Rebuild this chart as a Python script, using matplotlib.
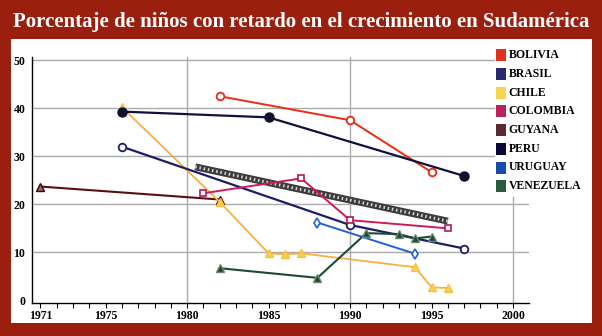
"""Porcentaje de niños con retardo en el crecimiento en Sudamérica."""

import matplotlib
matplotlib.use("Agg")
import matplotlib.pyplot as plt
from matplotlib.patches import Rectangle

# --- data -------------------------------------------------------------
countries = ["BOLIVIA", "BRASIL", "CHILE", "COLOMBIA", "GUYANA",
             "PERU", "URUGUAY", "VENEZUELA"]
legend_colors = ["#e0301e", "#262a6e", "#f8d54e", "#b8205e", "#5a2a32",
                 "#0a0838", "#1a4aaa", "#2a5c40"]

bolivia_years = [1982, 1990, 1995]
bolivia_vals = [42.5, 37.5, 26.7]
brasil_years = [1976, 1990, 1997]
brasil_vals = [32.0, 15.7, 10.8]
chile_years = [1976, 1982, 1985, 1986, 1987, 1994, 1995, 1996]
chile_vals = [40.2, 20.5, 9.8, 9.6, 9.8, 6.9, 2.7, 2.6]
colombia_years = [1981, 1987, 1990, 1996]
colombia_vals = [22.3, 25.4, 16.7, 15.0]
guyana_years = [1971, 1982]
guyana_vals = [23.7, 21.0]
peru_years = [1976, 1985, 1997]
peru_vals = [39.3, 38.1, 25.9]
uruguay_years = [1988, 1994]
uruguay_vals = [16.2, 9.7]
venezuela_years = [1982, 1988, 1991, 1993, 1994, 1995]
venezuela_vals = [6.7, 4.7, 14.0, 13.8, 12.9, 13.3]
trend_years = [1980.5, 1996]
trend_vals = [27.8, 16.5]

x_labels = {1971: "1971", 1975: "1975", 1980: "1980", 1985: "1985",
            1990: "1990", 1995: "1995", 2000: "2000"}
y_ticks = [0, 10, 20, 30, 40, 50]

# --- figure -----------------------------------------------------------
BG = "#9b1f0e"
SERIF = "Liberation Serif"

fig = plt.figure(figsize=(6.02, 3.36), dpi=100, facecolor=BG)
# white panel (behind the axes)
fig.patches.append(Rectangle((11 / 602, 1 - 322.7 / 336), 580.7 / 602, 283.7 / 336,
                             transform=fig.transFigure, facecolor="white",
                             edgecolor="none", zorder=-1))
fig.text(0.5, 1 - 22 / 336, "Porcentaje de niños con retardo en el crecimiento en Sudamérica",
         ha="center", va="center", color="white", fontsize=15,
         fontweight="bold", family=SERIF)

ax = fig.add_axes([32.3 / 602, 1 - 303.3 / 336, 497 / 602, 246 / 336])
ax.set_facecolor("none")
ax.set_xlim(1970.5, 2001)
ax.set_ylim(-0.6, 50.6)

for s in ("top", "right"):
    ax.spines[s].set_visible(False)
for s in ("left", "bottom"):
    ax.spines[s].set_color("black")
    ax.spines[s].set_linewidth(1)

ax.set_xticks(range(1971, 2001))
ax.set_xticklabels([x_labels.get(y, "") for y in range(1971, 2001)])
ax.set_yticks(y_ticks)
ax.set_yticklabels([str(v) for v in y_ticks])
ax.tick_params(axis="x", length=3.5, width=0.8, pad=1.5)
ax.tick_params(axis="y", length=0, pad=5)
for lab in ax.get_xticklabels() + ax.get_yticklabels():
    lab.set_family(SERIF)
    lab.set_fontweight("bold")
    lab.set_fontsize(8.5)

for v in y_ticks[1:]:
    ax.axhline(v, color="#ababab", lw=1, zorder=1)
for yr in (1980, 1990, 2000):
    ax.axvline(yr, color="#ababab", lw=1, zorder=1)

# hatched trend band
ax.plot(trend_years, trend_vals, color="#3c3c3c", lw=5, solid_capstyle="butt", zorder=2)
ax.plot(trend_years, trend_vals, color="white", lw=2.2, ls=(0, (0.5, 0.9)),
        solid_capstyle="butt", zorder=2.1, alpha=0.8)

ax.plot(guyana_years, guyana_vals, color="#5a1010", lw=1.5, marker="^", ms=6,
        mfc="#a06060", mec="#3a0808", zorder=3)
ax.plot(chile_years, chile_vals, color="#f7b040", lw=1.3, marker="^", ms=6,
        mfc="#fad052", mec="#f5c040", zorder=3)
ax.plot(bolivia_years, bolivia_vals, color="#ee2a12", lw=1.4, marker="o", ms=5.5,
        mfc="white", mec="#e8281a", mew=1.3, zorder=3)
ax.plot(peru_years, peru_vals, color="#101040", lw=1.6, marker="o", ms=6.5,
        mfc="#101030", mec="#101030", zorder=4)
ax.plot(brasil_years, brasil_vals, color="#1c1c6a", lw=1.6, marker="o", ms=5.5,
        mfc="white", mec="#1c1c6a", mew=1.3, zorder=3)
ax.plot(colombia_years, colombia_vals, color="#d01a5a", lw=1.4, marker="s", ms=5,
        mfc="white", mec="#b0185a", mew=1.2, zorder=3)
ax.plot(uruguay_years, uruguay_vals, color="#2262d2", lw=1.4, marker="d", ms=5,
        mfc="white", mec="#2262d2", mew=1.2, zorder=3)
ax.plot(venezuela_years, venezuela_vals, color="#1e4a30", lw=1.5, marker="^", ms=6,
        mfc="#1e4a30", mec="#6a8a70", zorder=3)

# legend (drawn over the axes on a white box)
fig.patches.append(Rectangle((495 / 602, 1 - 197 / 336), 96 / 602, 158 / 336,
                             transform=fig.transFigure, facecolor="white",
                             edgecolor="none", zorder=5))
for i, (name, col) in enumerate(zip(countries, legend_colors)):
    top = 49.3 + i * 18.7
    fig.patches.append(Rectangle((496 / 602, 1 - (top + 12) / 336), 10 / 602, 12 / 336,
                                 transform=fig.transFigure, facecolor=col,
                                 edgecolor="none", zorder=6))
    fig.text(508.5 / 602, 1 - (top + 6) / 336, name, ha="left", va="center",
             fontsize=8.5, fontweight="bold", family=SERIF, color="black", zorder=6)

fig.savefig("out.png", dpi=100, facecolor=BG)
plt.close(fig)
